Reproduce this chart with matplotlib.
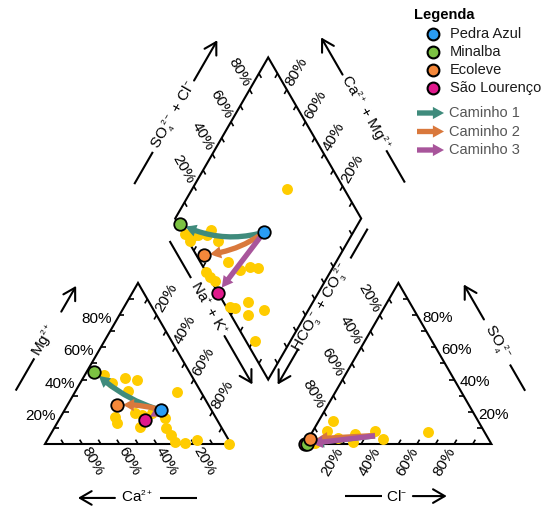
import numpy as np
import matplotlib
matplotlib.use("Agg")
import matplotlib.pyplot as plt
import matplotlib._mathtext as _mathtext
from matplotlib.patches import FancyArrowPatch, Polygon

plt.rcParams['font.family'] = ['Liberation Sans', 'DejaVu Sans']
plt.rcParams['mathtext.fontset'] = 'custom'
plt.rcParams['mathtext.rm'] = 'Liberation Sans'
plt.rcParams['mathtext.it'] = 'Liberation Sans:italic'
plt.rcParams['mathtext.bf'] = 'Liberation Sans:bold'
# smaller ion charges / subscripts
_mathtext.SHRINK_FACTOR = 0.55

# ---- named samples (meq %) ----
sample_names = ['Pedra Azul', 'Minalba', 'Ecoleve', 'São Lourenço']
sample_colors = ['#2a9df4', '#7cc242', '#f5883a', '#e0198c']
ca = [27, 51, 49.5, 39]
mg = [21, 45, 24, 15]
nak = [52, 4, 26.5, 46]
hco3 = [56.5, 99.2, 96, 100]
so4 = [5.5, 0.3, 3, 0]
cl = [38, 0.5, 1, 0]

# ---- other samples ----
bg_cat_mg = [43, 38, 41, 40, 33, 32, 17, 13, 19, 18, 10.5, 19, 16, 10, 5.6, 1.5, 0.5, 2.5, 0]
bg_cat_nak = [10, 17, 22.5, 29.6, 28, 55, 29, 32, 39, 43, 46, 48, 56.5, 60, 65, 69, 75, 80.5, 99]
bg_an_so4 = [14.3, 8, 3.7, 6.2, 8, 3.1, 7.4, 0.5, 1, 1.5]
bg_an_cl = [7.7, 7.6, 15.7, 23.6, 33.4, 40.2, 62.2, 5, 25, 3]
bg_dia_nak = [51, 10, 15, 17, 23, 30, 22, 15, 42, 51, 55, 60, 33, 37, 41, 57, 60, 65, 69, 76, 81]
bg_dia_so4cl = [69, 0.2, 4, 7, 16, 16, 12, 1, 15, 19, 25, 29, 0, 0.5, 2, 2, 4.4, 13, 9, 19, 5]

# ---- paths from Pedra Azul ----
path_labels = ['Caminho 1', 'Caminho 2', 'Caminho 3']
path_targets = [1, 2, 3]
path_colors = ['#3f8b7c', '#d9783c', '#a8559b']

tick_values = [20, 40, 60, 80]

H = np.sqrt(3) / 2
GAP = 0.4


def cation_xy(m, n):
    m = np.asarray(m) / 100.0
    n = np.asarray(n) / 100.0
    return n + 0.5 * m, H * m


def anion_xy(s, c):
    s = np.asarray(s) / 100.0
    c = np.asarray(c) / 100.0
    return 1 + GAP + c + 0.5 * s, H * s


def diamond_xy(n, a):
    n = np.asarray(n) / 100.0
    a = np.asarray(a) / 100.0
    return 0.5 + GAP / 2 + 0.5 * (n + a), H * (1 + GAP) + H * (a - n)


fig = plt.figure(figsize=(5.54, 5.07), dpi=100)
ax = fig.add_axes([0, 0, 1, 1])
ax.set_xlim(-45 / 186, 509 / 186)
ax.set_ylim(-63 / 186, 444 / 186)
ax.axis('off')


def px(x, y):
    return (x - 45) / 186, (444 - y) / 186


PATH_STYLE = 'simple,head_length=0.5,head_width=0.55,tail_width=0.24'

# ---- outlines ----
cat_v = np.array([[0, 0], [1, 0], [0.5, H]])
an_v = np.array([[1 + GAP, 0], [2 + GAP, 0], [1.5 + GAP, H]])
d_left = np.array([0.5 + GAP / 2, H * (1 + GAP)])
d_bot = np.array([1 + GAP / 2, H * GAP])
d_right = np.array([1.5 + GAP / 2, H * (1 + GAP)])
d_top = np.array([1 + GAP / 2, H * (2 + GAP)])
dia_v = np.array([d_left, d_bot, d_right, d_top])
for verts in (cat_v, an_v, dia_v):
    ax.add_patch(Polygon(verts, closed=True, fill=False, ec='black', lw=1.5,
                         joinstyle='miter', zorder=1))

# ---- ticks ----
TL = 5 / 186


def edge_ticks(p0, p1, d):
    p0 = np.asarray(p0, float)
    p1 = np.asarray(p1, float)
    d = np.asarray(d, float)
    d = d / np.linalg.norm(d)
    for k in range(1, 10):
        p = p0 + k / 10 * (p1 - p0)
        ax.plot([p[0], p[0] + TL * d[0]], [p[1], p[1] + TL * d[1]],
                color='black', lw=1.2, zorder=1, solid_capstyle='butt')


edge_ticks(cat_v[0], cat_v[1], (-0.5, H))
edge_ticks(cat_v[0], cat_v[2], (1, 0))
edge_ticks(cat_v[1], cat_v[2], (-0.5, -H))
edge_ticks(an_v[0], an_v[1], (0.5, H))
edge_ticks(an_v[1], an_v[2], (-1, 0))
edge_ticks(an_v[0], an_v[2], (0.5, -H))
edge_ticks(d_left, d_top, (0.5, -H))
edge_ticks(d_right, d_top, (-0.5, -H))
edge_ticks(d_left, d_bot, (0.5, H))
edge_ticks(d_right, d_bot, (-0.5, H))

# ---- tick labels ----
TFS = 11
OFF = 0.108
for v in tick_values:
    f = v / 100
    lab = f'{v}%'
    # Ca (cation base)
    x, y = 1 - f, 0
    ax.text(x + OFF * 0.5, y - OFF * H, lab, rotation=-60, ha='center', va='center',
            rotation_mode='anchor', fontsize=TFS)
    # Mg (cation left)
    x, y = cation_xy(v, 0)
    ax.text(x - 0.04, y - 0.022, lab, ha='right', va='center', fontsize=TFS)
    # Na + K (cation right)
    x, y = cation_xy(100 - v, v)
    ax.text(x + OFF * 0.5, y + OFF * H, lab, rotation=60, ha='center', va='center',
            rotation_mode='anchor', fontsize=TFS)
    # Cl (anion base)
    x, y = anion_xy(0, v)
    ax.text(x - OFF * 0.5, y - OFF * H, lab, rotation=60, ha='center', va='center',
            rotation_mode='anchor', fontsize=TFS)
    # SO4 (anion right)
    x, y = anion_xy(v, 100 - v)
    ax.text(x + 0.03, y - 0.015, lab, ha='left', va='center', fontsize=TFS)
    # HCO3 + CO3 (anion left)
    x, y = anion_xy(100 - v, 0)
    ax.text(x - OFF * 0.5, y + OFF * H, lab, rotation=-60, ha='center', va='center',
            rotation_mode='anchor', fontsize=TFS)
    # SO4 + Cl (diamond upper left)
    x, y = diamond_xy(0, v)
    ax.text(x - OFF * 0.5, y + OFF * H, lab, rotation=-60, ha='center', va='center',
            rotation_mode='anchor', fontsize=TFS)
    # Ca + Mg (diamond upper right)
    x, y = diamond_xy(100 - v, 100)
    ax.text(x + OFF * 0.5, y + OFF * H, lab, rotation=60, ha='center', va='center',
            rotation_mode='anchor', fontsize=TFS)


# ---- axis titles with arrows ----
def edge_title(a, b, normal, text, t_text, t_line, t_arrow, off, rot):
    a = np.asarray(a, float)
    b = np.asarray(b, float)
    e = b - a
    n = np.asarray(normal, float)
    n = n / np.linalg.norm(n)

    def pos(t):
        return a + t * e + off * n

    p = pos(t_text)
    ax.text(p[0], p[1], text, rotation=rot, ha='center', va='center',
            rotation_mode='anchor', fontsize=11)
    l0, l1 = pos(t_line[0]), pos(t_line[1])
    ax.plot([l0[0], l1[0]], [l0[1], l1[1]], color='black', lw=1.5,
            solid_capstyle='butt')
    s, t = pos(t_arrow[0]), pos(t_arrow[1])
    ax.add_patch(FancyArrowPatch(tuple(s), tuple(t), arrowstyle='->,head_length=0.6,head_width=0.35',
                                 mutation_scale=14, lw=1.5, color='black',
                                 shrinkA=0, shrinkB=0))


edge_title(cat_v[0], cat_v[1], (0, -1), r'$\mathrm{Ca}^{2+}$', 0.495, (0.618, 0.817), (0.376, 0.177), 0.29, 0)
edge_title(cat_v[0], cat_v[2], (-H, 0.5), r'$\mathrm{Mg}^{2+}$', 0.48, (0.17, 0.37), (0.66, 0.82), 0.28, 60)
edge_title(cat_v[1], cat_v[2], (H, 0.5), r'$\mathrm{Na}^{+}$ + $\mathrm{K}^{+}$', 0.69, (0.88, 1.11), (0.52, 0.22), 0.26, -60)
edge_title(an_v[0], an_v[1], (0, -1), r'$\mathrm{Cl}^{-}$', 0.49, (0.214, 0.41), (0.578, 0.76), 0.28, 0)
edge_title(an_v[1], an_v[2], (H, 0.5), r'$\mathrm{SO}_4^{\ 2-}$', 0.46, (0.157, 0.32), (0.60, 0.817), 0.30, -60)
edge_title(an_v[0], an_v[2], (-H, 0.5), r'$\mathrm{HCO}_3^{\ -}$ + $\mathrm{CO}_3^{\ 2-}$', 0.678, (0.985, 1.17), (0.42, 0.202), 0.289, 60)
edge_title(d_left, d_top, (-H, 0.5), r'$\mathrm{SO}_4^{\ 2-}$ + $\mathrm{Cl}^{-}$', 0.479, (0.05, 0.25), (0.693, 0.943), 0.283, 60)
edge_title(d_right, d_top, (H, 0.5), r'$\mathrm{Ca}^{2+}$ + $\mathrm{Mg}^{2+}$', 0.486, (0.05, 0.25), (0.72, 0.951), 0.30, -60)

# ---- background samples ----
YEL = '#ffcc00'
ax.scatter(*cation_xy(bg_cat_mg, bg_cat_nak), s=62, color=YEL, lw=0, zorder=2)
ax.scatter(*anion_xy(bg_an_so4, bg_an_cl), s=62, color=YEL, lw=0, zorder=2)
ax.scatter(*diamond_xy(bg_dia_nak, bg_dia_so4cl), s=62, color=YEL, lw=0, zorder=2)

# ---- named sample positions ----
cat_pts = list(zip(*cation_xy(mg, nak)))
an_pts = list(zip(*anion_xy(so4, cl)))
so4cl = [s + c for s, c in zip(so4, cl)]
dia_pts = list(zip(*diamond_xy(nak, so4cl)))

# ---- paths ----
rad_cat = [-0.13, 0.1, 0.0]
rad_dia = [-0.2, -0.15, 0.0]
for k, (tgt, col) in enumerate(zip(path_targets, path_colors)):
    for pts, rads in ((cat_pts, rad_cat), (dia_pts, rad_dia), (an_pts, [0, 0, 0])):
        ax.add_patch(FancyArrowPatch(pts[0], pts[tgt], arrowstyle=PATH_STYLE,
                                     mutation_scale=16, lw=0, color=col,
                                     connectionstyle=f'arc3,rad={rads[k]}',
                                     shrinkA=4.5, shrinkB=4.5, zorder=3))

# ---- named sample markers ----
draw_order = [0, 3, 1, 2]
for i in draw_order:
    ax.plot(*cat_pts[i], 'o', ms=9, mfc=sample_colors[i], mec='black', mew=1.3, zorder=4)
    ax.plot(*dia_pts[i], 'o', ms=9, mfc=sample_colors[i], mec='black', mew=1.3, zorder=4)
    if i != 0:
        ax.plot(*an_pts[i], 'o', ms=9, mfc=sample_colors[i], mec='black', mew=1.3, zorder=4)

# ---- legend ----
ax.text(*px(414, 15), 'Legenda', fontsize=10.5, fontweight='bold', ha='left', va='center')
for j, (name, col) in enumerate(zip(sample_names, sample_colors)):
    yy = 34 + 18 * j
    ax.plot(*px(433, yy), 'o', ms=8.5, mfc=col, mec='black', mew=1.5)
    ax.text(*px(450, yy), name, fontsize=10.5, ha='left', va='center', color='#1a1a1a')
for j, (lab, col) in enumerate(zip(path_labels, path_colors)):
    yy = 113 + 18.5 * j
    ax.add_patch(FancyArrowPatch(px(417, yy), px(444, yy), arrowstyle=PATH_STYLE,
                                 mutation_scale=16, lw=0, color=col,
                                 shrinkA=0, shrinkB=0))
    ax.text(*px(449, yy), lab, fontsize=10.5, ha='left', va='center', color='#555555')

fig.savefig('out.png', dpi=100)
